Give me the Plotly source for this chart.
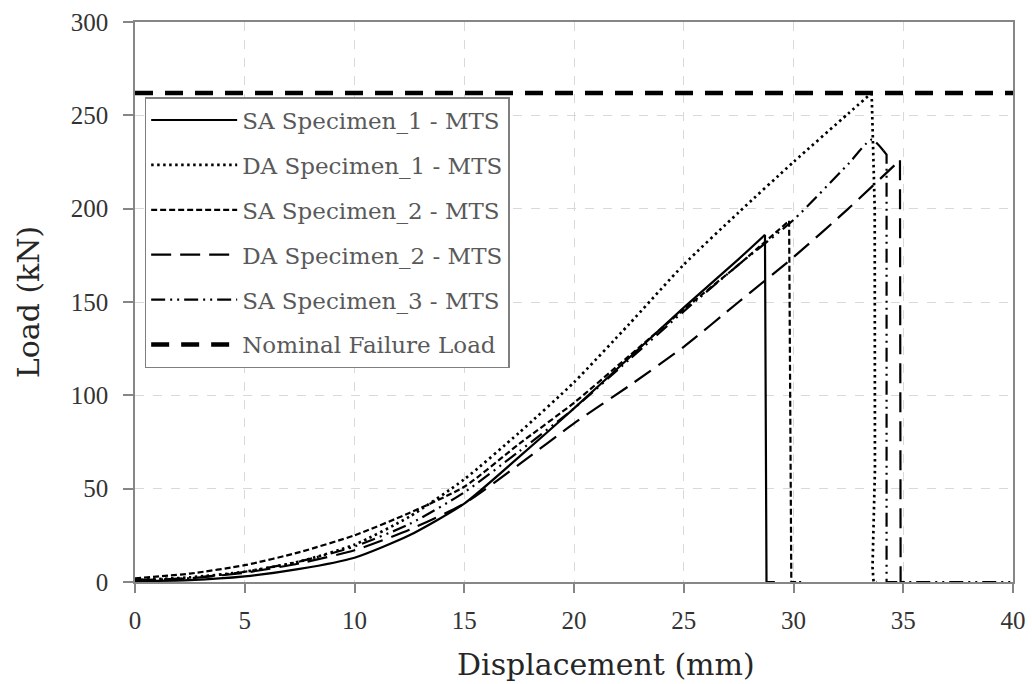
import plotly.graph_objects as go

# ---------------- data ----------------
disp_base = [0, 2.5, 5, 7.5, 10, 12.5, 15, 17.5, 20, 22.5, 25, 27.5]

sa1_x = disp_base + [28.7]
sa1_y = [0.5, 1, 3, 7, 13, 25, 42, 67, 93, 120, 147, 173, 186]
sa1_fail_x = [28.7, 28.77, 29.15]
sa1_fail_y = [186, 0, 0]

da1_x = disp_base + [30, 32.5, 33.56]
da1_y = [1, 2.5, 5.5, 11, 20, 35, 55, 80, 107, 138, 170, 198, 225, 251, 262]
da1_fail_x = [33.56, 33.7, 33.71, 33.6, 33.65, 33.8]
da1_fail_y = [262, 200, 60, 8, 0, 0]

sa2_x = disp_base + [29.8]
sa2_y = [2, 4.5, 9, 16, 25, 37, 51, 74, 96, 121, 146, 170, 193.5]
sa2_fail_x = [29.8, 29.9, 30.35]
sa2_fail_y = [193.5, 0, 0]

da2_x = disp_base + [30, 32.5, 34.85]
da2_y = [1, 2, 5, 10, 17, 28, 42, 63, 85, 105, 126, 150, 174, 200, 226]
da2_fail_x = [34.85, 34.88, 35.2]
da2_fail_y = [226, 0, 0]

sa3_x = disp_base + [30, 32.5, 33.56, 34.1]
sa3_y = [1, 2, 5.5, 11, 19, 31, 48, 70, 93, 119, 145, 170, 194, 224, 237, 231]
sa3_fail_x = [34.1, 34.24, 34.24, 40]
sa3_fail_y = [231, 229, 0, 0]

nominal_x = [0, 40]
nominal_y = [262, 262]

names = ["SA Specimen_1 - MTS", "DA Specimen_1 - MTS", "SA Specimen_2 - MTS",
         "DA Specimen_2 - MTS", "SA Specimen_3 - MTS", "Nominal Failure Load"]

x_ticks = [0, 5, 10, 15, 20, 25, 30, 35, 40]
y_ticks = [0, 50, 100, 150, 200, 250, 300]

x_title = "Displacement (mm)"
y_title = "Load (kN)"

# ---------------- figure ----------------
FONT = "DejaVu Serif"
TICKFONT = "Liberation Serif"
fig = go.Figure()

series = [
    (names[0], sa1_x, sa1_y, sa1_fail_x, sa1_fail_y, "solid", 2.2),
    (names[1], da1_x, da1_y, da1_fail_x, da1_fail_y, "2.5px,3.5px", 2.7),
    (names[2], sa2_x, sa2_y, sa2_fail_x, sa2_fail_y, "6px,3px", 2.2),
    (names[3], da2_x, da2_y, da2_fail_x, da2_fail_y, "20px,9px", 2.2),
    (names[4], sa3_x, sa3_y, sa3_fail_x, sa3_fail_y, "14px,5px,2px,5px,2px,5px", 2.2),
]

for i, (nm, xs, ys, fx, fy, dash, w) in enumerate(series):
    fig.add_trace(go.Scatter(
        x=xs, y=ys, mode="lines", name=nm, legendgroup=f"g{i}",
        line=dict(color="black", width=w, dash=dash, shape="spline", smoothing=0.6),
    ))
    fig.add_trace(go.Scatter(
        x=fx, y=fy, mode="lines", name=nm, legendgroup=f"g{i}", showlegend=False,
        line=dict(color="black", width=w, dash=dash),
    ))

fig.add_trace(go.Scatter(
    x=nominal_x, y=nominal_y, mode="lines", name=names[5], legendgroup="g5",
    line=dict(color="black", width=4.5, dash="18px,12px"),
))

axis_common = dict(
    showline=True, linecolor="#868686", linewidth=1.5, mirror=True,
    ticks="outside", tickcolor="#868686", tickwidth=1.5,
    showgrid=True, gridcolor="#d9d9d9", gridwidth=1, griddash="dash",
    zeroline=False, automargin=False,
    tickfont=dict(family=TICKFONT, size=25, color="#333333"),
)

fig.update_xaxes(
    range=[0, 40], tickvals=x_ticks, ticklen=9, ticklabelstandoff=6,
    **axis_common,
)
fig.update_yaxes(
    range=[0, 300], tickvals=y_ticks, ticklen=10, ticklabelstandoff=10,
    title=dict(text=y_title, font=dict(family=FONT, size=30, color="#262626"), standoff=22),
    **axis_common,
)

# x-axis title (offset to the right of centre, as in the reference)
fig.add_annotation(
    text=x_title, xref="paper", yref="paper", x=0.537, y=-0.147,
    xanchor="center", yanchor="middle", showarrow=False,
    font=dict(family=FONT, size=30, color="#262626"),
)

fig.update_layout(
    width=1032, height=684,
    margin=dict(l=135, r=19, t=22, b=102),
    paper_bgcolor="white", plot_bgcolor="white",
    showlegend=True,
    legend=dict(
        x=0.011, y=0.866, xanchor="left", yanchor="top",
        bgcolor="white", bordercolor="#7f7f7f", borderwidth=1.5,
        font=dict(family=FONT, size=23, color="#595959"),
        traceorder="grouped", tracegroupgap=12, itemwidth=86,
    ),
)

fig.write_html("out.html", config={"displayModeBar": False},
               post_script="document.body.style.margin='0px';")
